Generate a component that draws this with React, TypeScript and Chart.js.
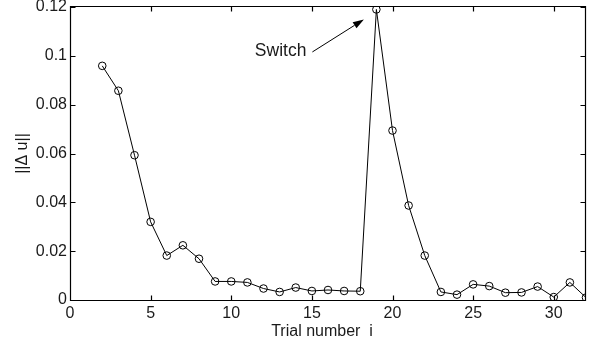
import React, { useEffect, useRef } from "react";
import { Chart, registerables } from "chart.js";

Chart.register(...registerables);

const trials = [2, 3, 4, 5, 6, 7, 8, 9, 10, 11, 12, 13, 14, 15, 16, 17, 18, 19, 20, 21, 22, 23, 24, 25, 26, 27, 28, 29, 30, 31, 32];
const deltaU = [0.0959, 0.0857, 0.0593, 0.032, 0.0182, 0.0224, 0.0169, 0.0076, 0.0076, 0.0072, 0.0047, 0.0033, 0.0051, 0.0037, 0.0041, 0.0037, 0.0036, 0.119, 0.0694, 0.0387, 0.0182, 0.0033, 0.0022, 0.0064, 0.0057, 0.003, 0.0031, 0.0055, 0.0012, 0.0072, 0.001];
const xTickValues = [0, 5, 10, 15, 20, 25, 30];
const yTickValues = [0, 0.02, 0.04, 0.06, 0.08, 0.1, 0.12];
const xMin = 0;
const xMax = 32;
const yMin = 0;
const yMax = 0.12;
const xLabel = "Trial number  i";
const yLabel = "||\u0394 u||";
const annotationText = "Switch";
const annotationTrial = 19;

const FONT = "'Liberation Sans', Arial, Helvetica, sans-serif";
const TEXT_COLOR = "#1a1a1a";

const framePlugin = {
  id: "frame",
  afterDraw(chart: any) {
    const { ctx, chartArea: a, scales } = chart;
    const xs = scales.x;
    const ys = scales.y;
    const L = Math.round(a.left) + 0.5;
    const R = Math.round(a.right) - 0.5;
    const T = Math.round(a.top) - 0.5;
    const B = Math.round(a.bottom) + 0.5;
    const tl = 5;
    ctx.save();
    ctx.strokeStyle = "#000";
    ctx.lineWidth = 1.2;
    ctx.beginPath();
    ctx.rect(L, T, R - L, B - T);
    for (const v of xTickValues) {
      const p = Math.round(xs.getPixelForValue(v)) + 0.5;
      ctx.moveTo(p, B);
      ctx.lineTo(p, B - tl);
      ctx.moveTo(p, T);
      ctx.lineTo(p, T + tl);
    }
    for (const v of yTickValues) {
      const p = Math.round(ys.getPixelForValue(v)) + 0.5;
      ctx.moveTo(L, p);
      ctx.lineTo(L + tl, p);
      ctx.moveTo(R, p);
      ctx.lineTo(R - tl, p);
    }
    ctx.stroke();

    // x-axis label, centred slightly left of the axis centre as in the original
    ctx.fillStyle = TEXT_COLOR;
    ctx.font = `16px ${FONT}`;
    ctx.textAlign = "center";
    ctx.textBaseline = "middle";
    ctx.fillText(xLabel, (a.left + a.right) / 2 - 6, a.bottom + 31.5);

    // annotation
    const idx = trials.indexOf(annotationTrial);
    const px = xs.getPixelForValue(annotationTrial);
    const py = ys.getPixelForValue(deltaU[idx]);
    const tipX = px - 12.5;
    const tipY = py + 10;
    const startX = px - 64;
    const startY = py + 42.5;
    ctx.font = `17.5px ${FONT}`;
    ctx.textAlign = "right";
    ctx.fillText(annotationText, px - 70, py + 42);
    const ang = Math.atan2(tipY - startY, tipX - startX);
    const hl = 11;
    const hw = 3.6;
    const bx = tipX - hl * Math.cos(ang);
    const by = tipY - hl * Math.sin(ang);
    ctx.strokeStyle = "#000";
    ctx.lineWidth = 1;
    ctx.beginPath();
    ctx.moveTo(startX, startY);
    ctx.lineTo(bx, by);
    ctx.stroke();
    ctx.fillStyle = "#000";
    ctx.beginPath();
    ctx.moveTo(tipX, tipY);
    ctx.lineTo(bx + hw * Math.sin(ang), by - hw * Math.cos(ang));
    ctx.lineTo(bx - hw * Math.sin(ang), by + hw * Math.cos(ang));
    ctx.closePath();
    ctx.fill();
    ctx.restore();
  },
};

function fmt(v: number) {
  return String(Number(v.toFixed(4)));
}

export default function App() {
  const ref = useRef<HTMLCanvasElement | null>(null);
  useEffect(() => {
    if (!ref.current) return;
    const chart = new Chart(ref.current, {
      type: "line",
      data: {
        datasets: [
          {
            data: trials.map((x, i) => ({ x, y: deltaU[i] })),
            borderColor: "#000",
            borderWidth: 1,
            pointRadius: 3.8,
            pointBorderWidth: 1,
            pointBorderColor: "#000",
            pointBackgroundColor: "rgba(0,0,0,0)",
            tension: 0,
          },
        ],
      },
      options: {
        responsive: false,
        animation: false,
        devicePixelRatio: 1,
        layout: { padding: { left: 0, right: 11, top: 7, bottom: 0 } },
        plugins: { legend: { display: false }, tooltip: { enabled: false } },
        scales: {
          x: {
            type: "linear",
            min: xMin,
            max: xMax,
            afterBuildTicks: (s: any) => {
              s.ticks = xTickValues.map((v) => ({ value: v }));
            },
            afterFit: (s: any) => {
              s.height = 49;
              s.paddingLeft = 0;
              s.paddingRight = 0;
            },
            grid: { display: false, drawTicks: false },
            border: { display: false },
            ticks: {
              autoSkip: false,
              maxRotation: 0,
              padding: 4,
              color: TEXT_COLOR,
              font: { family: FONT, size: 16 },
              callback: (v: any) => fmt(Number(v)),
            },
            title: { display: false },
          },
          y: {
            type: "linear",
            min: yMin,
            max: yMax,
            afterBuildTicks: (s: any) => {
              s.ticks = yTickValues.map((v) => ({ value: v }));
            },
            afterFit: (s: any) => {
              s.width = 70;
              s.paddingTop = 0;
              s.paddingBottom = 0;
            },
            grid: { display: false, drawTicks: false },
            border: { display: false },
            ticks: {
              autoSkip: false,
              padding: 3,
              color: TEXT_COLOR,
              font: { family: FONT, size: 16 },
              callback: (v: any) => fmt(Number(v)),
            },
            title: {
              display: true,
              text: yLabel,
              color: TEXT_COLOR,
              font: { family: FONT, size: 16 },
              padding: { top: 13, bottom: 0 },
            },
          },
        },
      },
      plugins: [framePlugin],
    } as any);
    return () => chart.destroy();
  }, []);
  return (
    <div style={{ position: "absolute", left: 0, top: 0, width: 597, height: 349 }}>
      <canvas ref={ref} width={597} height={349} style={{ width: 597, height: 349, display: "block" }} />
    </div>
  );
}
